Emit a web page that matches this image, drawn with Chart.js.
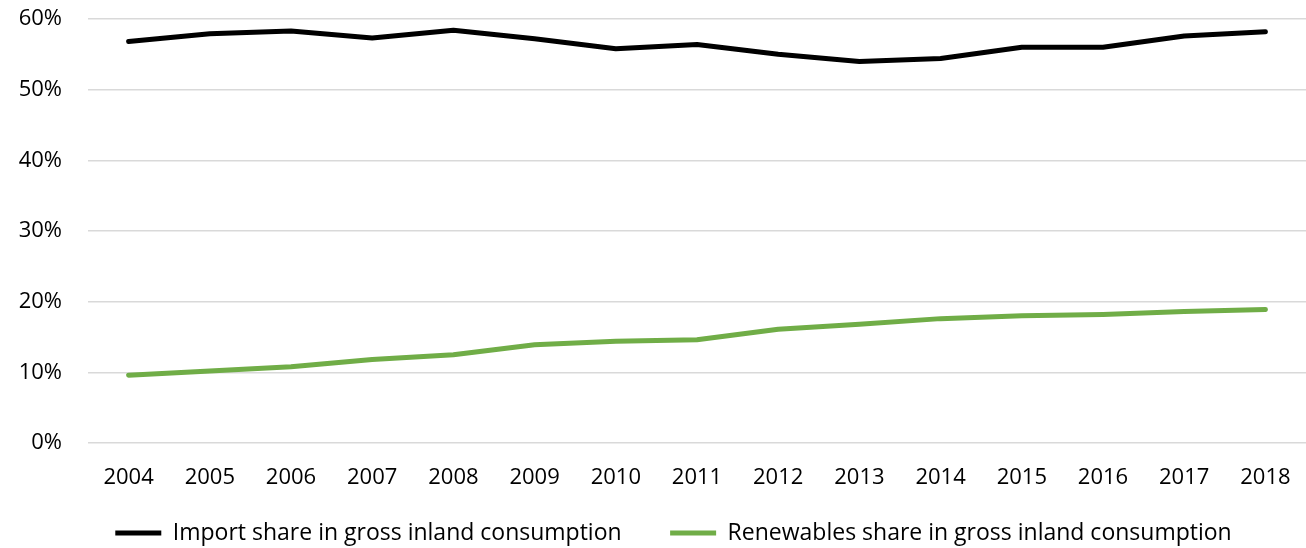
<!DOCTYPE html>
<html>
<head>
<meta charset="utf-8">
<script src="https://cdn.jsdelivr.net/npm/chart.js@4/dist/chart.umd.min.js"></script>
<style>
  html, body { margin: 0; padding: 0; background: #fff; }
  #wrap { width: 1306px; height: 548px; position: relative; }
</style>
</head>
<body>
<div id="wrap"><canvas id="c"></canvas></div>
<script>
const years = ['2004','2005','2006','2007','2008','2009','2010','2011','2012','2013','2014','2015','2016','2017','2018'];
const importShare = [56.8, 57.9, 58.3, 57.3, 58.4, 57.2, 55.8, 56.4, 55.0, 54.0, 54.4, 56.0, 56.0, 57.6, 58.2];
const renewablesShare = [9.6, 10.2, 10.8, 11.8, 12.5, 13.9, 14.4, 14.6, 16.1, 16.8, 17.6, 18.0, 18.2, 18.6, 18.9];
const yTicks = [0, 10, 20, 30, 40, 50, 60];
const seriesNames = ['Import share in gross inland consumption', 'Renewables share in gross inland consumption'];

const FONT = "'Open Sans', sans-serif";
const LEFT_PAD = 37;

// Widen the label clip areas of the axes so their tick labels are not cut off.
const unclipLabels = {
  id: 'unclipLabels',
  afterLayout(chart) {
    chart.scales.y.left = 0;
    chart.scales.x.bottom = chart.height;
  }
};

new Chart(document.getElementById('c'), {
  type: 'line',
  data: {
    labels: years,
    datasets: [
      {
        label: seriesNames[0],
        data: importShare,
        borderColor: '#000000',
        backgroundColor: '#000000',
        borderWidth: 5,
        borderCapStyle: 'round',
        borderJoinStyle: 'round',
        pointRadius: 0,
        tension: 0
      },
      {
        label: seriesNames[1],
        data: renewablesShare,
        borderColor: '#70ad47',
        backgroundColor: '#70ad47',
        borderWidth: 5,
        borderCapStyle: 'round',
        borderJoinStyle: 'round',
        pointRadius: 0,
        tension: 0
      }
    ]
  },
  plugins: [unclipLabels],
  options: {
    responsive: true,
    maintainAspectRatio: false,
    animation: false,
    events: [],
    layout: { padding: { left: LEFT_PAD, right: -4, top: 19, bottom: 0 } },
    plugins: {
      tooltip: { enabled: false },
      legend: {
        position: 'bottom',
        align: 'center',
        maxHeight: 75,
        labels: {
          usePointStyle: true,
          pointStyle: 'line',
          pointStyleWidth: 46,
          padding: 48.5,
          color: '#000',
          font: { family: FONT, size: 23 }
        }
      }
    },
    scales: {
      x: {
        offset: true,
        afterFit: (s) => { s.height = 30; s.paddingLeft = 0; s.paddingRight = 0; s.paddingTop = 0; s.paddingBottom = 0; },
        grid: { display: false, drawTicks: false },
        border: { display: false },
        ticks: { color: '#000', font: { family: FONT, size: 22 }, padding: 22, maxRotation: 0, autoSkip: false }
      },
      y: {
        min: 0,
        max: 60,
        afterBuildTicks: (s) => { s.ticks = yTicks.map(v => ({ value: v })); },
        afterFit: (s) => { s.width = 88 - LEFT_PAD; s.paddingTop = 0; s.paddingBottom = 0; s.paddingLeft = 0; s.paddingRight = 0; },
        grid: { color: '#d9d9d9', lineWidth: 1.5, drawTicks: false },
        border: { display: false },
        ticks: {
          color: '#000',
          font: { family: FONT, size: 22 },
          padding: 26,
          callback: (v) => v + '%'
        }
      }
    }
  }
});
</script>
</body>
</html>
